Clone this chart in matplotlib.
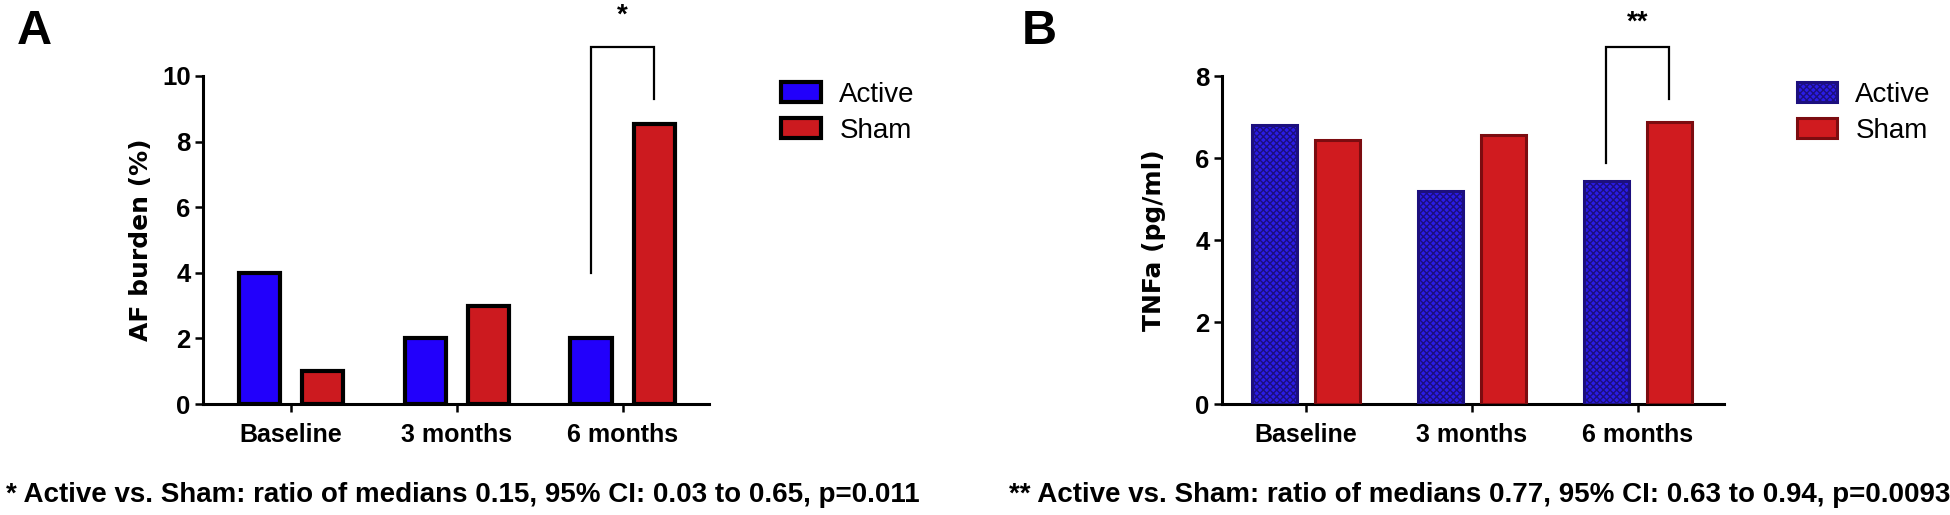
import numpy as np
import matplotlib
matplotlib.use("Agg")
import matplotlib.pyplot as plt

plt.rcParams["font.family"] = ["Liberation Sans", "DejaVu Sans"]
plt.rcParams["hatch.linewidth"] = 1.0

# ---------------------------
# DATA
# ---------------------------
groups = ["Baseline", "3 months", "6 months"]

af_active = [4.0, 2.0, 2.0]
af_sham = [1.0, 3.0, 8.55]

tnf_active = [6.8, 5.2, 5.45]
tnf_sham = [6.45, 6.55, 6.88]

note_a = "* Active vs. Sham: ratio of medians 0.15, 95% CI: 0.03 to 0.65, p=0.011"
note_b = "** Active vs. Sham: ratio of medians 0.77, 95% CI: 0.63 to 0.94, p=0.0093"

OFF = 0.19


def style_axes(ax, ymax, step):
    ax.spines["top"].set_visible(False)
    ax.spines["right"].set_visible(False)
    ax.spines["left"].set_linewidth(2.2)
    ax.spines["bottom"].set_linewidth(2.2)
    ax.set_ylim(0, ymax)
    ax.set_yticks(np.arange(0, ymax + 0.1, step))
    ax.set_xticks(range(len(groups)))
    ax.set_xticklabels(groups, fontsize=18, fontweight="bold")
    for lab in ax.get_yticklabels():
        lab.set_fontsize(18.5)
        lab.set_fontweight("bold")
    ax.tick_params(axis="both", length=6, width=1.8, direction="out", pad=3)
    ax.tick_params(axis="x", pad=8)


def bracket(ax, x0, x1, y0, ytop, y1):
    ax.plot([x0, x0, x1, x1], [y0, ytop, ytop, y1], color="black",
            lw=1.6, clip_on=False, solid_joinstyle="miter")


def add_legend(ax, x_px):
    ax.legend(loc="upper left", bbox_to_anchor=(x_px / 1950, 1 - 82 / 515),
              bbox_transform=fig.transFigure, frameon=False, fontsize=20,
              handlelength=1.45, handleheight=0.75, handletextpad=0.65,
              labelspacing=0.35, borderpad=0, borderaxespad=0)


fig = plt.figure(figsize=(19.5, 5.15), dpi=100)
x = np.arange(len(groups))

# ================================================================
# PANEL A - AF burden
# ================================================================
axA = fig.add_axes([203 / 1950, 111 / 515, 506 / 1950, 328 / 515])
axA.bar(x - OFF, af_active, width=0.25, color="#2200fb", edgecolor="black",
        linewidth=3.0, label="Active", zorder=3)
axA.bar(x + OFF, af_sham, width=0.25, color="#cc1a1f", edgecolor="black",
        linewidth=3.0, label="Sham", zorder=3)
axA.set_xlim(-0.53, 2.52)
style_axes(axA, 10, 2)
axA.set_ylabel("AF burden (%)", fontsize=18, fontweight="bold",
               family="DejaVu Sans")
axA.yaxis.set_label_coords(-0.098, 0.5)
bracket(axA, 2 - OFF, 2 + OFF, 4.0, 10.88, 9.3)
axA.text(2.0, 11.85, "*", ha="center", va="center", fontsize=20,
         fontweight="bold", clip_on=False)
add_legend(axA, 781)

# ================================================================
# PANEL B - TNFa
# ================================================================
axB = fig.add_axes([1222 / 1950, 111 / 515, 502 / 1950, 328 / 515])
axB.bar(x - OFF, tnf_active, width=0.27, color="#2a1ce6", edgecolor="#1c0f7e",
        hatch="xxxxx", linewidth=2.2, label="Active", zorder=3)
axB.bar(x + OFF, tnf_sham, width=0.27, color="#d01b1f", edgecolor="#7c0c10",
        linewidth=2.2, label="Sham", zorder=3)
axB.set_xlim(-0.506, 2.52)
style_axes(axB, 8, 2)
axB.set_ylabel("TNFa (pg/ml)", fontsize=18, fontweight="bold",
               family="DejaVu Sans")
axB.yaxis.set_label_coords(-0.112, 0.5)
bracket(axB, 2 - OFF, 2 + OFF, 5.87, 8.71, 7.45)
axB.text(2.0, 9.3, "**", ha="center", va="center", fontsize=20,
         fontweight="bold", clip_on=False)
add_legend(axB, 1797)

# panel letters and footnotes
fig.text(17 / 1950, 1 - 32 / 515, "A", fontsize=35, fontweight="bold", va="center")
fig.text(1022 / 1950, 1 - 32 / 515, "B", fontsize=35, fontweight="bold", va="center")
fig.text(6 / 1950, 1 - 495 / 515, note_a, fontsize=20, fontweight="bold", va="center")
fig.text(1009 / 1950, 1 - 495 / 515, note_b, fontsize=20, fontweight="bold", va="center")

fig.savefig("out.png", dpi=100)
